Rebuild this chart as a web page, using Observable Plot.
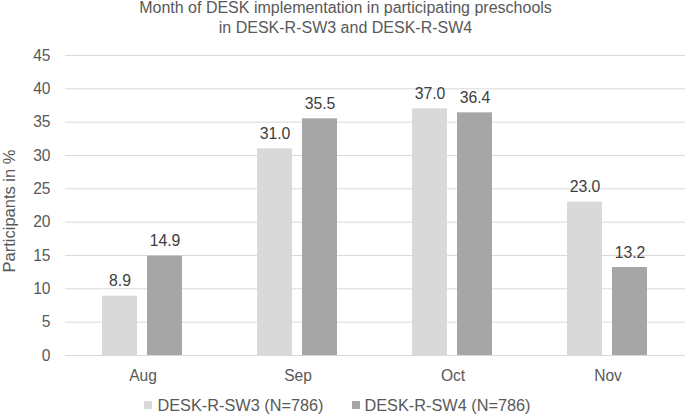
<!DOCTYPE html>
<html>
<head>
<meta charset="utf-8">
<script src="https://cdn.jsdelivr.net/npm/d3@7"></script>
<script src="https://cdn.jsdelivr.net/npm/@observablehq/plot@0.6"></script>
<style>
  body { margin: 0; background: #fff; font-family: "Liberation Sans", Arial, sans-serif; color: #595959; }
  #wrap { position: relative; width: 685px; height: 414px; overflow: hidden; }
  #title { position: absolute; top: -2px; left: 3px; width: 685px; text-align: center; font-size: 16px; line-height: 20px; color: #595959; }
  #chart { position: absolute; top: 40px; left: 0; }
  #ylab { position: absolute; left: 9px; top: 211px; transform: translate(-50%, -50%) rotate(-90deg); font-size: 16.5px; line-height: 16px; white-space: nowrap; color: #595959; }
  #legend { position: absolute; top: 394px; left: -5px; width: 685px; display: flex; justify-content: center; font-size: 16.3px; line-height: 22px; }
  .item { display: flex; align-items: center; margin: 0 14px; }
  .sw { width: 8px; height: 8px; margin-right: 5px; }
</style>
</head>
<body>
<div id="wrap">
  <div id="title">Month of DESK implementation in participating preschools<br>in DESK-R-SW3 and DESK-R-SW4</div>
  <div id="chart"></div>
  <div id="ylab">Participants in %</div>
  <div id="legend"></div>
</div>
<script>
const months = ["Aug", "Sep", "Oct", "Nov"];
const seriesNames = ["DESK-R-SW3 (N=786)", "DESK-R-SW4 (N=786)"];
const sw3 = [8.9, 31.0, 37.0, 23.0];
const sw4 = [14.9, 35.5, 36.4, 13.2];
const yTicks = [0, 5, 10, 15, 20, 25, 30, 35, 40, 45];
const colors = ["#d9d9d9", "#a6a6a6"];

const data = [];
months.forEach((m, i) => {
  data.push({month: m, series: seriesNames[0], value: sw3[i]});
  data.push({month: m, series: seriesNames[1], value: sw4[i]});
});

const chart = Plot.plot({
  width: 685,
  height: 350,
  marginTop: 15,
  marginBottom: 35,
  marginLeft: 65,
  marginRight: 0,
  style: {fontFamily: "'Liberation Sans', Arial, sans-serif", fontSize: "15.6px", color: "#595959", background: "transparent"},
  facet: {data, x: "month"},
  fx: {domain: months, padding: 0, label: null, tickSize: 0, tickPadding: 14, axis: "bottom"},
  x: {domain: seriesNames, paddingInner: 0.222, paddingOuter: 0.82, axis: null},
  y: {domain: [0, 45], ticks: yTicks, tickSize: 0, tickPadding: 15, label: null},
  color: {domain: seriesNames, range: colors},
  marks: [
    Plot.ruleY(yTicks, {stroke: "#d9d9d9", strokeWidth: 1}),
    Plot.barY(data, {x: "series", y: "value", fill: "series"}),
    Plot.text(data, {x: "series", y: "value", text: d => d.value.toFixed(1), dy: -15, fill: "#404040", fontSize: 15.8})
  ]
});
document.getElementById("chart").appendChild(chart);

const legend = document.getElementById("legend");
seriesNames.forEach((s, i) => {
  const it = document.createElement("div");
  it.className = "item";
  it.innerHTML = `<span class="sw" style="background:${colors[i]}"></span><span>${s}</span>`;
  legend.appendChild(it);
});
</script>
</body>
</html>
